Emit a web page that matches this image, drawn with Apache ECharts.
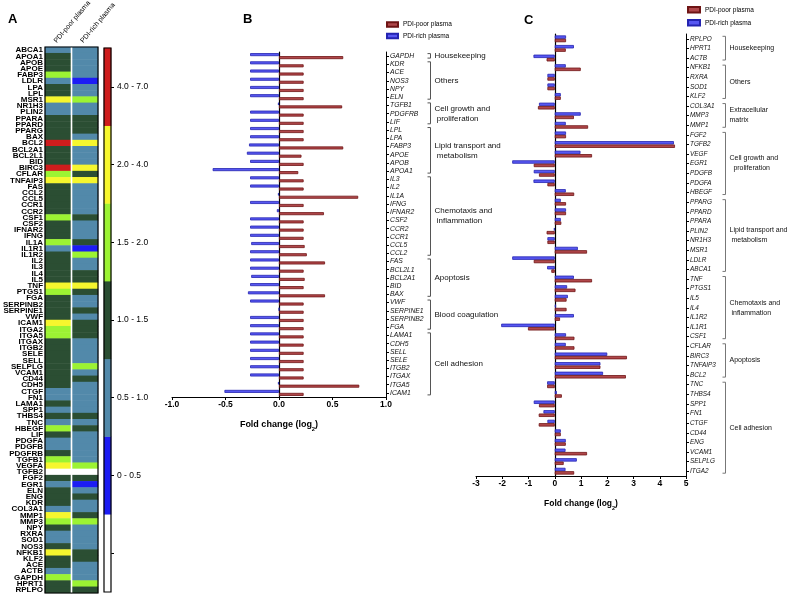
<!DOCTYPE html>
<html><head><meta charset="utf-8">
<script src="https://cdn.jsdelivr.net/npm/echarts@6/dist/echarts.min.js"></script>
<style>html,body{margin:0;padding:0;background:#fff}#chart{width:789px;height:599px}</style>
</head><body><div id="chart"></div>
<script>
// ---------- Panel A: heatmap (fold-change bins) ----------
const heatColumns = ['PDI-poor plasma', 'PDI-rich plasma'];
const heatGenes = ['ABCA1','APOA1','APOB','APOE','FABP3','LDLR','LPA','LPL','MSR1','NR1H3','PLIN2','PPARA','PPARD','PPARG','BAX','BCL2','BCL2A1','BCL2L1','BID','BIRC3','CFLAR','TNFAIP3','FAS','CCL2','CCL5','CCR1','CCR2','CSF1','CSF2','IFNAR2','IFNG','IL1A','IL1R1','IL1R2','IL2','IL3','IL4','IL5','TNF','PTGS1','FGA','SERPINB2','SERPINE1','VWF','ICAM1','ITGA2','ITGA5','ITGAX','ITGB2','SELE','SELL','SELPLG','VCAM1','CD44','CDH5','CTGF','FN1','LAMA1','SPP1','THBS4','TNC','HBEGF','LIF','PDGFA','PDGFB','PDGFRB','TGFB1','VEGFA','TGFB2','FGF2','EGR1','ELN','ENG','KDR','COL3A1','MMP1','MMP3','NPY','RXRA','SOD1','NOS3','NFKB1','KLF2','ACE','ACTB','GAPDH','HPRT1','RPLPO'];
// bin index: 0 = above range (white), 1 = 0-0.5, 2 = 0.5-1.0, 3 = 1.0-1.5, 4 = 1.5-2.0, 5 = 2.0-4.0, 6 = 4.0-7.0
const heatBins = ['> 7.0', '0 - 0.5', '0.5 - 1.0', '1.0 - 1.5', '1.5 - 2.0', '2.0 - 4.0', '4.0 - 7.0'];
const heatColors = ['#ffffff', '#1c1cf4', '#5289aa', '#2b4e33', '#9cf333', '#f6f62e', '#cf1d1d'];
const poorBin = [2,3,3,3,4,2,3,3,5,2, 2,3,3,3,3,6,3,3,3,6, 4,5,3,3,3,3,3,4,3,3, 3,4,2,3,3,3,3,3,5,4, 3,3,3,3,5,4,4,3,3,3, 3,3,3,3,3,2,2,3,2,3, 2,4,3,2,2,3,4,5,0,3, 2,3,3,3,2,5,4,3,2,2, 3,5,3,3,2,4,3,3];
const richBin = [2,2,2,2,2,1,2,2,4,2, 2,3,3,3,2,5,2,2,2,5, 3,5,2,2,2,2,2,3,2,2, 2,3,1,4,2,2,3,3,5,3, 2,2,3,2,3,3,3,2,2,2, 2,4,2,3,2,2,2,2,2,3, 2,3,2,2,2,2,2,4,0,3, 1,2,3,2,2,3,4,2,2,2, 2,3,3,2,2,2,4,3];

// ---------- Panel B: log2 fold change ----------
const bGenes = ['GAPDH','KDR','ACE','NOS3','NPY','ELN','TGFB1','PDGFRB','LIF','LPL','LPA','FABP3','APOE','APOB','APOA1','IL3','IL2','IL1A','IFNG','IFNAR2','CSF2','CCR2','CCR1','CCL5','CCL2','FAS','BCL2L1','BCL2A1','BID','BAX','VWF','SERPINE1','SERPINB2','FGA','LAMA1','CDH5','SELL','SELE','ITGB2','ITGAX','ITGA5','ICAM1'];
const bPoor = [0.60,0.23,0.23,0.23,0.23,0.23,0.59,0.23,0.23,0.23,0.23,0.60,0.21,0.23,0.18,0.23,0.23,0.74,0.23,0.42,0.23,0.23,0.23,0.24,0.26,0.43,0.23,0.24,0.23,0.43,0.23,0.23,0.23,0.23,0.23,0.23,0.23,0.23,0.23,0.23,0.75,0.23];
const bRich = [-0.27,-0.27,-0.27,-0.27,-0.27,-0.27,-0.01,-0.27,-0.27,-0.27,-0.27,-0.28,-0.30,-0.27,-0.62,-0.27,-0.27,-0.01,-0.27,-0.02,-0.27,-0.27,-0.27,-0.26,-0.27,-0.27,-0.27,-0.26,-0.27,-0.29,-0.27,0.00,-0.27,-0.27,-0.27,-0.27,-0.27,-0.27,-0.27,-0.27,-0.01,-0.51];
const bGroups = [
  ['Housekeeping', 'GAPDH', 'GAPDH'],
  ['Others', 'KDR', 'ELN'],
  ['Cell growth and\n proliferation', 'TGFB1', 'LIF'],
  ['Lipid transport and\n metabolism', 'LPL', 'APOA1'],
  ['Chemotaxis and\n inflammation', 'IL3', 'CCL2'],
  ['Apoptosis', 'FAS', 'BAX'],
  ['Blood coagulation', 'VWF', 'FGA'],
  ['Cell adhesion', 'LAMA1', 'ICAM1']
];

// ---------- Panel C: log2 fold change ----------
const cGenes = ['RPLPO','HPRT1','ACTB','NFKB1','RXRA','SOD1','KLF2','COL3A1','MMP3','MMP1','FGF2','TGFB2','VEGF','EGR1','PDGFB','PDGFA','HBEGF','PPARG','PPARD','PPARA','PLIN2','NR1H3','MSR1','LDLR','ABCA1','TNF','PTGS1','IL5','IL4','IL1R2','IL1R1','CSF1','CFLAR','BIRC3','TNFAIP3','BCL2','TNC','THBS4','SPP1','FN1','CTGF','CD44','ENG','VCAM1','SELPLG','ITGA2'];
const cPoor = [0.43,0.42,-0.31,0.99,-0.28,-0.28,0.23,-0.64,0.73,1.27,0.43,4.58,1.42,-0.80,-0.60,-0.28,0.74,0.43,0.43,0.25,-0.31,-0.28,1.23,-0.80,-0.13,1.42,0.79,0.45,0.45,0.20,-1.02,0.75,0.75,2.75,1.74,2.71,-0.29,0.27,-0.60,-0.61,-0.61,0.23,0.42,1.23,0.34,0.74];
const cRich = [0.43,0.73,-0.81,0.42,-0.28,-0.28,0.23,-0.60,0.99,0.42,0.43,4.54,0.98,-1.62,-0.80,-0.81,0.42,0.23,0.43,0.23,-0.03,-0.28,0.88,-1.62,-0.29,0.73,0.47,0.50,0.05,0.73,-2.04,0.43,0.42,2.00,1.74,1.84,-0.29,0.08,-0.80,-0.43,-0.28,0.23,0.42,0.41,0.84,0.41];
const cGroups = [
  ['Housekeeping', 'RPLPO', 'ACTB'],
  ['Others', 'NFKB1', 'KLF2'],
  ['Extracellular\nmatrix', 'COL3A1', 'MMP1'],
  ['Cell growth and\n  proliferation', 'FGF2', 'HBEGF'],
  ['Lipid transport and\n metabolism', 'PPARG', 'ABCA1'],
  ['Chemotaxis and\n inflammation', 'TNF', 'CSF1'],
  ['Apoptosis', 'CFLAR', 'BCL2'],
  ['Cell adhesion', 'TNC', 'ITGA2']
];

const SANS = "'Liberation Sans', Arial, sans-serif";
const NARROW = "'Liberation Sans Narrow', 'Arial Narrow', 'Liberation Sans', sans-serif";
const RED = '#b0474a', RED_D = '#6e1414';
const BLUE = '#5757f2', BLUE_D = '#2424b0';

const heatData = [];
heatGenes.forEach((g, i) => {
  heatData.push({ value: [0, i, poorBin[i]], itemStyle: { color: heatColors[poorBin[i]] } });
  heatData.push({ value: [1, i, richBin[i]], itemStyle: { color: heatColors[richBin[i]] } });
});
const legendBarData = heatBins.map((b, i) => ({ value: [0, i, i], itemStyle: { color: heatColors[i] } }));

const chart = echarts.init(document.getElementById('chart'), null, { renderer: 'canvas' });

const foldName = '{a|Fold change (log}{s|2}{a|)}';
function valueAxis(gridIndex, min, max, interval, fmt, fs, nameFs) {
  return {
    gridIndex, type: 'value', min, max, interval,
    axisLine: { show: true, onZero: false, lineStyle: { color: '#000', width: 1 } },
    axisTick: { show: true, length: 3, lineStyle: { color: '#000' } },
    axisLabel: { formatter: fmt, fontSize: fs, fontWeight: 'bold', color: '#000', margin: 3, fontFamily: SANS },
    splitLine: { show: false },
    name: foldName, nameLocation: 'middle', nameGap: 20,
    nameTextStyle: { rich: {
      a: { fontSize: nameFs, fontWeight: 'bold', color: '#000', fontFamily: SANS, lineHeight: 12, verticalAlign: 'bottom' },
      s: { fontSize: nameFs * 0.65, fontWeight: 'bold', color: '#000', fontFamily: SANS, lineHeight: 12, verticalAlign: 'bottom', padding: [0, 0, -3, 0] }
    } }
  };
}
function catAxisRight(gridIndex, data, fs) {
  return {
    gridIndex, type: 'category', data, inverse: true, position: 'right',
    axisLine: { show: true, onZero: false, lineStyle: { color: '#000', width: 1 } },
    axisTick: { show: true, length: 3, alignWithLabel: true, lineStyle: { color: '#000' } },
    axisLabel: { interval: 0, fontSize: fs, fontStyle: 'italic', color: '#111', margin: 4, fontFamily: SANS },
    splitLine: { show: false }
  };
}
function zeroAxis(gridIndex, data) {
  return {
    gridIndex, type: 'category', data, inverse: true, position: 'left',
    axisLine: { show: true, onZero: true, lineStyle: { color: '#000', width: 1.2 } },
    axisTick: { show: false }, axisLabel: { show: false }, splitLine: { show: false }
  };
}
function barSeries(name, xi, yi, data, color, border, width) {
  return {
    name, type: 'bar', xAxisIndex: xi, yAxisIndex: yi, data,
    barWidth: width, barGap: '0%',
    itemStyle: { color, borderColor: border, borderWidth: 0.8 },
    emphasis: { disabled: true }, animation: false
  };
}

chart.setOption({
  animation: false,
  backgroundColor: '#fff',
  title: [
    { text: 'A', left: 8, top: 13, padding: 0, textStyle: { fontSize: 13, fontWeight: 'bold', color: '#000', fontFamily: SANS } },
    { text: 'B', left: 243, top: 13, padding: 0, textStyle: { fontSize: 13, fontWeight: 'bold', color: '#000', fontFamily: SANS } },
    { text: 'C', left: 524, top: 14, padding: 0, textStyle: { fontSize: 13, fontWeight: 'bold', color: '#000', fontFamily: SANS } }
  ],
  legend: [
    { data: ['PDI-poor plasma', 'PDI-rich plasma'], orient: 'vertical', left: 386, top: 21, padding: 0,
      itemWidth: 11, itemHeight: 4.5, itemGap: 4.5, icon: 'rect', selectedMode: false,
      textStyle: { fontSize: 6.5, color: '#000', fontFamily: SANS } },
    { data: ['PDI-poor plasma', 'PDI-rich plasma'], orient: 'vertical', left: 687, top: 6, padding: 0,
      itemWidth: 12, itemHeight: 5.5, itemGap: 5.5, icon: 'rect', selectedMode: false,
      textStyle: { fontSize: 6.5, color: '#000', fontFamily: SANS } }
  ],
  grid: [
    { left: 41, top: 47, width: 57, height: 546 },
    { left: 104, top: 48, width: 7, height: 544 },
    { left: 172, top: 52, width: 214, height: 345 },
    { left: 476, top: 34, width: 210, height: 442 }
  ],
  xAxis: [
    { gridIndex: 0, type: 'category', data: heatColumns, position: 'top',
      axisLine: { show: false }, axisTick: { show: false }, splitLine: { show: false },
      axisLabel: { show: false } },
    { gridIndex: 1, type: 'category', data: [''], show: false },
    valueAxis(2, -1, 1, 0.5, v => v.toFixed(1), 8.5, 9),
    valueAxis(3, -3, 5, 1, v => String(v), 8.5, 8.5)
  ],
  yAxis: [
    { gridIndex: 0, type: 'category', data: heatGenes, inverse: true,
      axisLine: { show: false }, axisTick: { show: false }, splitLine: { show: false },
      axisLabel: { interval: 0, fontSize: 8, fontWeight: 'bold', fontFamily: NARROW, margin: 2, color: '#000', lineHeight: 7 } },
    { gridIndex: 1, type: 'category', data: heatBins, position: 'right',
      axisLine: { show: false }, splitLine: { show: false },
      axisTick: { show: true, alignWithLabel: true, length: 3, lineStyle: { color: '#000' } },
      axisLabel: { interval: 0, formatter: (v, i) => (i === 0 ? '' : v), fontSize: 8.5, margin: 6, color: '#000', fontFamily: SANS } },
    catAxisRight(2, bGenes, 6.8),
    zeroAxis(2, bGenes),
    catAxisRight(3, cGenes, 6.4),
    zeroAxis(3, cGenes)
  ],
  series: [
    { type: 'heatmap', xAxisIndex: 0, yAxisIndex: 0, data: heatData, emphasis: { disabled: true }, itemStyle: { borderWidth: 0 } },
    { type: 'heatmap', xAxisIndex: 1, yAxisIndex: 1, data: legendBarData, emphasis: { disabled: true }, itemStyle: { borderWidth: 0 } },
    barSeries('PDI-rich plasma', 2, 2, bRich, BLUE, BLUE_D, 3),
    barSeries('PDI-poor plasma', 2, 2, bPoor, RED, RED_D, 3),
    barSeries('PDI-rich plasma', 3, 4, cRich, BLUE, BLUE_D, 3.4),
    barSeries('PDI-poor plasma', 3, 4, cPoor, RED, RED_D, 3.4)
  ]
});

// ---------- annotations derived from the axes ----------
const graphics = [];
// heatmap frame + column separator
const hx0 = chart.convertToPixel({ xAxisIndex: 0 }, heatColumns[0]);
const hx1 = chart.convertToPixel({ xAxisIndex: 0 }, heatColumns[1]);
const hyTop = chart.convertToPixel({ yAxisIndex: 0 }, heatGenes[0]);
const hyBot = chart.convertToPixel({ yAxisIndex: 0 }, heatGenes[heatGenes.length - 1]);
const hBand = (hyBot - hyTop) / (heatGenes.length - 1);
const colW = hx1 - hx0;
const gridTop = hyTop - hBand / 2;
graphics.push({ type: 'line', shape: { x1: (hx0 + hx1) / 2, y1: gridTop, x2: (hx0 + hx1) / 2, y2: hyBot + hBand / 2 }, style: { stroke: '#fff', lineWidth: 1.6 }, z: 10 });
graphics.push({ type: 'rect', shape: { x: hx0 - colW / 2, y: gridTop, width: colW * 2, height: hyBot - hyTop + hBand }, style: { fill: null, stroke: '#000', lineWidth: 1.2 }, z: 11 });
// rotated column headers
[hx0, hx1].forEach((cx, k) => {
  graphics.push({ type: 'text', x: cx - 3, y: gridTop - 5, rotation: 50 * Math.PI / 180,
    style: { text: heatColumns[k], fontSize: 7, fontFamily: SANS, fill: '#000', align: 'left', verticalAlign: 'middle' }, z: 10 });
});
// legend bar frame
const lx = chart.convertToPixel({ xAxisIndex: 1 }, '');
const ly0 = chart.convertToPixel({ yAxisIndex: 1 }, heatBins[heatBins.length - 1]);
const ly1 = chart.convertToPixel({ yAxisIndex: 1 }, heatBins[0]);
const lBand = (ly1 - ly0) / (heatBins.length - 1);
graphics.push({ type: 'rect', shape: { x: lx - 3.5, y: ly0 - lBand / 2, width: 7, height: ly1 - ly0 + lBand }, style: { fill: null, stroke: '#000', lineWidth: 1.2 }, z: 11 });

function addGroups(groups, yAxisIndex, bx, fs, color) {
  groups.forEach(([label, first, last]) => {
    const y1 = chart.convertToPixel({ yAxisIndex }, first) - 2.5;
    const y2 = chart.convertToPixel({ yAxisIndex }, last) + 2;
    graphics.push({ type: 'polyline', shape: { points: [[bx - 3, y1], [bx, y1], [bx, y2], [bx - 3, y2]] }, style: { stroke: color, fill: null, lineWidth: 1 }, z: 10 });
    graphics.push({ type: 'text', x: bx + 4, y: (y1 + y2) / 2, style: { text: label, fontSize: fs, fontFamily: SANS, fill: '#111', align: 'left', verticalAlign: 'middle', lineHeight: 10 }, z: 10 });
  });
}
addGroups(bGroups, 2, 430.5, 8, '#555');
addGroups(cGroups, 4, 725.5, 7, '#777');

chart.setOption({ graphic: graphics });
</script></body></html>
